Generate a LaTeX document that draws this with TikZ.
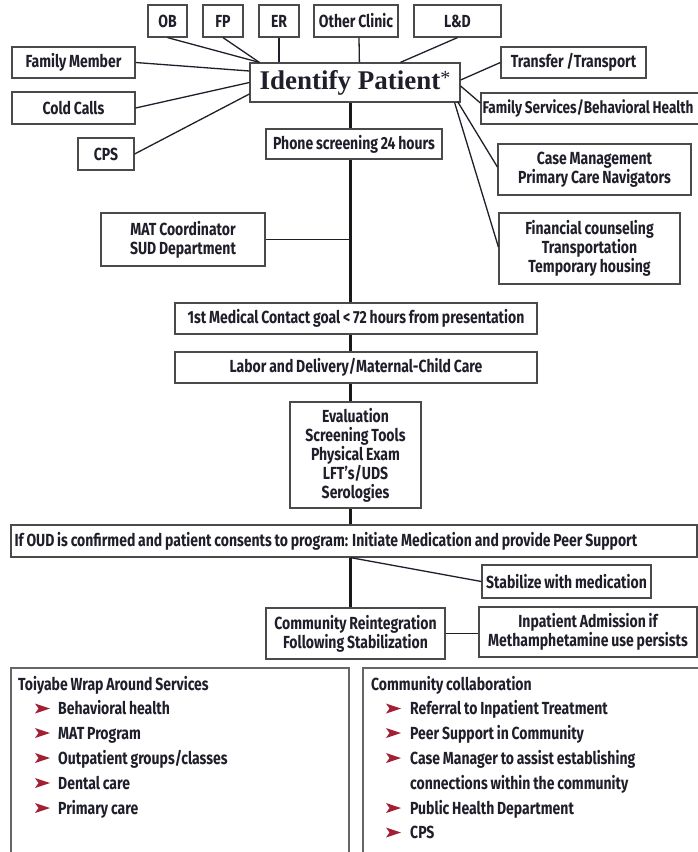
\documentclass[tikz,border=0pt]{standalone}
\usepackage{fontspec}
\setmainfont{Fira Sans}[FakeStretch=0.8, WordSpace=0.85]
\newfontfamily\idfont{Liberation Serif}
\usetikzlibrary{calc}
\definecolor{ink}{HTML}{1F1F2B}
\definecolor{edge}{HTML}{4A4A4A}
\definecolor{bul}{HTML}{A31F34}
\tikzset{
  bx/.style={draw=edge, line width=1.2pt, fill=white, text=ink,
    font=\fontsize{17.5}{19}\selectfont\bfseries, align=center, inner sep=0pt},
  txt/.style={text=ink, inner sep=0pt, font=\fontsize{17.5}{19}\selectfont\bfseries},
  link/.style={draw=ink, line width=1.3pt},
  trunk/.style={draw=black!90, line width=2.6pt},
  openbox/.style={draw=black!60, line width=1.4pt},
  item/.style={txt, anchor=base west},
  bulletpic/.pic={\fill[bul] (0,-5) -- (15,0) -- (0,5) -- (3.5,0) -- cycle;}
}
\begin{document}
\begin{tikzpicture}[x=1pt,y=-1pt]
\useasboundingbox (0,0) rectangle (698,852);
\clip (0,0) rectangle (698,852);
\fill[white] (0,0) rectangle (698,852);

% top sources
\node[bx, minimum width=39, minimum height=32] (ob) at (167.5,21) {OB};
\node[bx, minimum width=40, minimum height=32] (fp) at (223,21) {FP};
\node[bx, minimum width=40, minimum height=32] (er) at (279,21) {ER};
\node[bx, minimum width=84, minimum height=32] (oc) at (356,21) {Other Clinic};
\node[bx, minimum width=87, minimum height=32] (ld) at (457.5,21) {L\&D};
\node[bx, minimum width=123, minimum height=31] (fm) at (73.5,62.5) {Family Member};
\node[bx, minimum width=123, minimum height=32] (cc) at (73.5,108) {Cold Calls};
\node[bx, minimum width=56, minimum height=32] (cps) at (106,154) {CPS};

\node[bx, minimum width=210, minimum height=39,
  font=\idfont\fontsize{27}{30}\selectfont\bfseries] (id) at (355,82.5)
  {Identify Patient\raisebox{5pt}{\fontsize{20}{20}\selectfont\mdseries *}};

\node[bx, minimum width=145, minimum height=31] (tr) at (573.5,62.5) {Transfer /Transport};
\node[bx, minimum width=225, minimum height=31] (fs) at (593.5,108.5) {};
\node[txt, anchor=west, font=\fontsize{17}{19}\selectfont\bfseries] (fst)
  at ($(fs.west)+(2,0)$) {Family Services/Behavioral Health};
\node[bx, minimum width=193, minimum height=51] (cm) at (594.5,169.5)
  {Case Management\\Primary Care Navigators};
\node[bx, minimum width=181, minimum height=71] (fc) at (589.5,248.5)
  {Financial counseling\\Transportation\\Temporary housing};

% trunk nodes
\node[bx, minimum width=176, minimum height=30] (ph) at (354,144) {Phone screening 24 hours};
\node[bx, minimum width=164, minimum height=53] (mat) at (183,239.5)
  {MAT Coordinator\\SUD Department};
\node[bx, minimum width=362, minimum height=31] (med) at (356,318.5)
  {1st Medical Contact goal < 72 hours from presentation};
\node[bx, minimum width=362, minimum height=31] (lab) at (356,367.5)
  {Labor and Delivery/Maternal-Child Care};
\node[bx, minimum width=131, minimum height=106] (ev) at (355.5,455)
  {Evaluation\\Screening Tools\\Physical Exam\\LFT’s/UDS\\Serologies};
\node[bx, minimum width=686, minimum height=32] (oud) at (354,541) {};
\node[txt, anchor=west] (oudt) at ($(oud.west)+(4,0)$)
  {If OUD is confirmed and patient consents to program: Initiate Medication and provide Peer Support};
\node[bx, minimum width=169, minimum height=33] (st) at (566.5,581.5) {Stabilize with medication};
\node[bx, minimum width=179, minimum height=51] (cr) at (355.5,633.5)
  {Community Reintegration\\Following Stabilization};
\node[bx, minimum width=218, minimum height=50] (inp) at (588,632)
  {Inpatient Admission if\\Methamphetamine use persists};

% connectors to Identify Patient
\draw[link] (ob.south) -- ($(id.north west)+(10,0)$);
\draw[link] (fp.south) -- ($(id.north west)+(10,0)$);
\draw[link] (er.south) -- (er.south |- id.north);
\draw[link] ($(oc.south)+(3,0)$) -- ($(id.north west)+(110,0)$);
\draw[link] (ld.south) -- ($(id.north west)+(151,0)$);
\draw[link] (fm.east) -- ($(id.west)+(0,-11.5)$);
\draw[link] (cc.east) -- (id.west);
\draw[link] (cps.east) -- ($(id.west)+(0,11.5)$);
\draw[link] (tr.west) -- ($(id.east)+(0,-2.5)$);
\draw[link] ($(id.east)+(0,3.5)$) -- ($(fs.west)+(0,-5.5)$);
\draw[link] ($(id.south east)+(-3,-1)$) -- ($(cm.west)+(0,-2.5)$);
\draw[link] ($(id.south east)+(-6,0)$) -- ($(fc.west)+(0,-1.5)$);

% trunk
\coordinate (sp) at (350.5,0);
\draw[trunk] (sp |- id.south) -- (sp |- ph.north);
\draw[trunk] (sp |- ph.south) -- (sp |- med.north);
\draw[link, line width=1.6pt] (mat.east) -- (mat.east -| sp);
\draw[trunk] (sp |- med.south) -- (sp |- lab.north);
\draw[trunk] (sp |- lab.south) -- (sp |- ev.north);
\draw[trunk] (sp |- ev.south) -- (sp |- oud.north);
\draw[trunk, line width=2.2pt] (sp |- oud.south) -- (sp |- cr.north);
\draw[link] (sp |- oud.south) -- (st.west);
\draw[link] ($(st.south)+(-6,0)$) -- ($(st.south)+(-6,0)$ |- inp.north);
\draw[link] (cr.east) -- (cr.east -| inp.west);

% bottom open boxes
\node[openbox, minimum width=338, minimum height=220, inner sep=0pt] (wl) at (180,778) {};
\node[openbox, minimum width=350, minimum height=220, inner sep=0pt] (wr) at (538,778) {};

\node[item] (l0) at (18,690) {Toiyabe Wrap Around Services};
\node[item] (l1) at (58,714.5) {Behavioral health};
\node[item] (l2) at (58,739) {MAT Program};
\node[item] (l3) at (58,764) {Outpatient groups/classes};
\node[item] (l4) at (58,789) {Dental care};
\node[item] (l5) at (58,814) {Primary care};
\foreach \y in {714.5,739,764,789,814} \pic at (35,\y-6) {bulletpic};

\node[item] (r0) at (371,690) {Community collaboration};
\node[item] (r1) at (410,714.5) {Referral to Inpatient Treatment};
\node[item] (r2) at (410,739) {Peer Support in Community};
\node[item] (r3) at (410,764) {Case Manager to assist establishing};
\node[item] (r4) at (410,789) {connections within the community};
\node[item] (r5) at (410,814) {Public Health Department};
\node[item] (r6) at (410,838.5) {CPS};
\foreach \y in {714.5,739,764,814,838.5} \pic at (386,\y-6) {bulletpic};
\end{tikzpicture}
\end{document}
